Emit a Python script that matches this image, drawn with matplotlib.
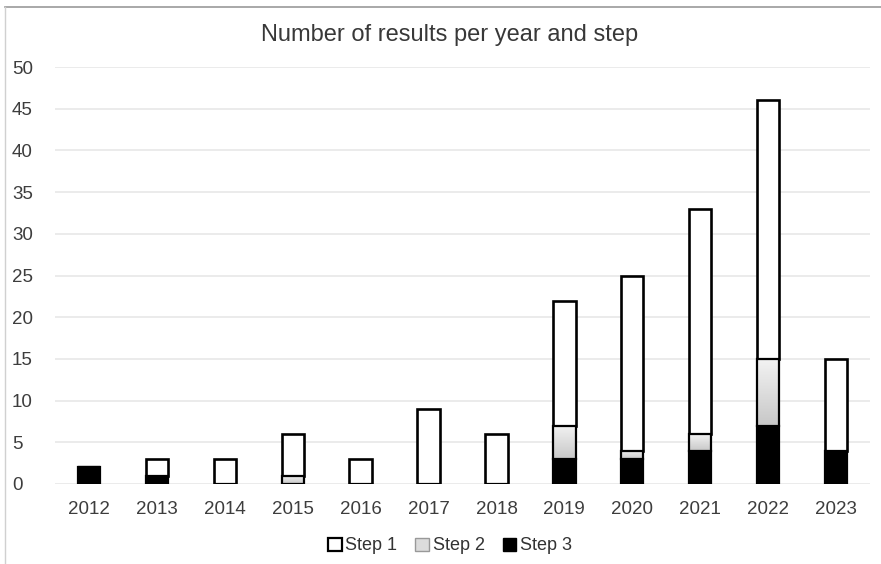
import numpy as np
import matplotlib
matplotlib.use("Agg")
import matplotlib.pyplot as plt
from matplotlib.patches import Patch
from matplotlib.lines import Line2D

years = ["2012", "2013", "2014", "2015", "2016", "2017", "2018",
         "2019", "2020", "2021", "2022", "2023"]
step3 = [2, 1, 0, 0, 0, 0, 0, 3, 3, 4, 7, 4]
step2 = [0, 0, 0, 1, 0, 0, 0, 4, 1, 2, 8, 0]
step1 = [0, 2, 3, 5, 3, 9, 6, 15, 21, 27, 31, 11]
yticks = [0, 5, 10, 15, 20, 25, 30, 35, 40, 45, 50]

plt.rcParams["font.family"] = ["Liberation Sans", "DejaVu Sans"]

W, H = 881, 564
fig = plt.figure(figsize=(W / 100, H / 100), dpi=100)
ax = fig.add_axes([55 / W, 1 - 484 / H, (870 - 55) / W, (484 - 67) / H])

x = np.arange(len(years))
width = 0.33
s3 = np.array(step3, dtype=float)
s2 = np.array(step2, dtype=float)
s1 = np.array(step1, dtype=float)

# grid
for t in yticks:
    ax.axhline(t, color="#e8e8e8", lw=1.2, zorder=0)

# Step 3 (black)
ax.bar(x, s3, width, color="black", edgecolor="black", lw=1.6, zorder=3)

# Step 2 (gray gradient, darker at the bottom)
grad = np.linspace(0.78, 0.95, 256).reshape(-1, 1)
bars2 = ax.bar(x, s2, width, bottom=s3, color="none", edgecolor="black",
               lw=1.6, zorder=4)
for b in bars2:
    if b.get_height() <= 0:
        continue
    x0, y0 = b.get_x(), b.get_y()
    im = ax.imshow(grad, cmap="gray", vmin=0, vmax=1, origin="lower",
                   extent=[x0, x0 + b.get_width(), y0, y0 + b.get_height()],
                   aspect="auto", zorder=3.5, interpolation="bilinear")
    im.set_clip_path(b)

# Step 1 (white)
ax.bar(x, s1, width, bottom=s3 + s2, color="white", edgecolor="black",
       lw=1.9, zorder=3)

ax.set_xlim(-0.5, len(years) - 0.5)
ax.set_ylim(0, 50)
ax.set_yticks(yticks)
ax.set_xticks(x)
ax.set_xticklabels(years)
for s in ax.spines.values():
    s.set_visible(False)
ax.tick_params(axis="both", length=0, labelsize=13.5, colors="#3d3d3d")
ax.tick_params(axis="x", pad=12)
for lbl in ax.get_yticklabels():
    lbl.set_horizontalalignment("left")
ax.tick_params(axis="y", pad=31)

fig.text(450 / W, 1 - 35 / H, "Number of results per year and step",
         ha="center", va="center", fontsize=17, color="#383838")

handles = [
    Patch(facecolor="white", edgecolor="black", lw=1.6, label="Step 1"),
    Patch(facecolor="#dcdcdc", edgecolor="#999999", lw=1.0, label="Step 2"),
    Patch(facecolor="black", edgecolor="black", lw=1.0, label="Step 3"),
]
fig.legend(handles=handles, loc="center", bbox_to_anchor=(450 / W, 1 - 546 / H),
           ncol=3, frameon=False, fontsize=13, handlelength=0.75,
           handleheight=0.75, handletextpad=0.2, columnspacing=1.0,
           labelcolor="#333333")

# outer frame lines (top and left)
fig.add_artist(Line2D([5 / W, 1], [1 - 7 / H, 1 - 7 / H], color="#9a9a9a",
                      lw=1.2, transform=fig.transFigure))
fig.add_artist(Line2D([5 / W, 5 / W], [0, 1 - 7 / H], color="#d0d0d0",
                      lw=1.0, transform=fig.transFigure))

fig.savefig("out.png", dpi=100)
